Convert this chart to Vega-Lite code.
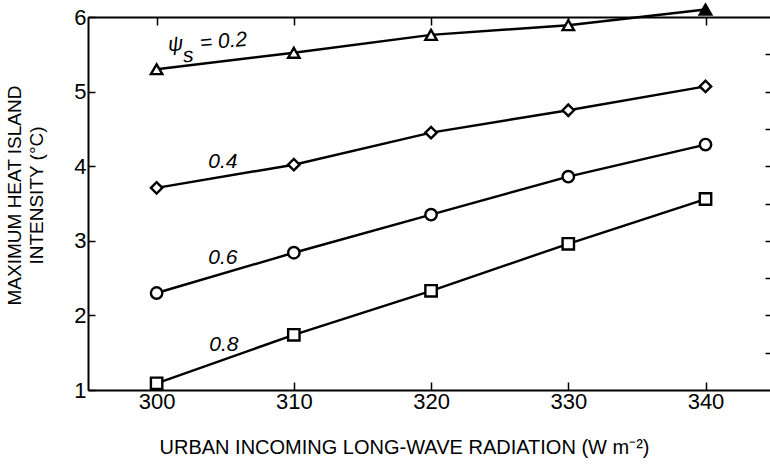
{
  "$schema": "https://vega.github.io/schema/vega-lite/v6.json",
  "width": 682,
  "height": 373,
  "autosize": {"type": "none"},
  "padding": {"left": 88, "top": 17, "right": 0, "bottom": 85},
  "background": "white",
  "config": {
    "view": {"stroke": null},
    "font": "Liberation Sans",
    "axis": {"grid": false, "domainColor": "black", "domainWidth": 2, "tickColor": "black", "tickWidth": 1.5, "labelColor": "black", "titleColor": "black", "labelFont": "Liberation Sans", "titleFont": "Liberation Sans", "titleFontWeight": "normal"}
  },
  "datasets": {
    "series": [
      {"R": 300, "T": 5.30, "psi": "0.2"},
      {"R": 310, "T": 5.52, "psi": "0.2"},
      {"R": 320, "T": 5.76, "psi": "0.2"},
      {"R": 330, "T": 5.89, "psi": "0.2"},
      {"R": 340, "T": 6.10, "psi": "0.2"},
      {"R": 300, "T": 3.71, "psi": "0.4"},
      {"R": 310, "T": 4.02, "psi": "0.4"},
      {"R": 320, "T": 4.45, "psi": "0.4"},
      {"R": 330, "T": 4.75, "psi": "0.4"},
      {"R": 340, "T": 5.07, "psi": "0.4"},
      {"R": 300, "T": 2.30, "psi": "0.6"},
      {"R": 310, "T": 2.84, "psi": "0.6"},
      {"R": 320, "T": 3.35, "psi": "0.6"},
      {"R": 330, "T": 3.86, "psi": "0.6"},
      {"R": 340, "T": 4.29, "psi": "0.6"},
      {"R": 300, "T": 1.09, "psi": "0.8"},
      {"R": 310, "T": 1.74, "psi": "0.8"},
      {"R": 320, "T": 2.33, "psi": "0.8"},
      {"R": 330, "T": 2.96, "psi": "0.8"},
      {"R": 340, "T": 3.56, "psi": "0.8"}
    ],
    "labels": [
      {"R": 304.83, "T": 4.06, "text": "0.4"},
      {"R": 304.83, "T": 2.77, "text": "0.6"},
      {"R": 304.9, "T": 1.60, "text": "0.8"}
    ],
    "psilabel": [
      {"R": 300.83, "T": 5.62, "text": "ψ"},
      {"R": 301.92, "T": 5.47, "text": "s"},
      {"R": 303.16, "T": 5.64, "text": "= 0.2"}
    ]
  },
  "resolve": {"axis": {"x": "independent", "y": "independent"}},
  "layer": [
    {
      "data": {"name": "series"},
      "mark": {"type": "line", "color": "black", "strokeWidth": 2.4},
      "encoding": {
        "x": {"field": "R", "type": "quantitative", "scale": {"domain": [295, 344.7], "nice": false, "zero": false},
          "axis": {"orient": "bottom", "values": [300, 310, 320, 330, 340], "format": "d", "tickSize": -8, "labelPadding": 9, "labelFontSize": 22,
            "title": "URBAN INCOMING LONG-WAVE RADIATION (W m⁻²)", "titleFontSize": 20, "titleX": 316, "titleY": 57, "titleAnchor": null, "titleAlign": "center", "titleBaseline": "middle"}},
        "y": {"field": "T", "type": "quantitative", "scale": {"domain": [1, 6], "nice": false, "zero": false},
          "axis": {"orient": "left", "values": [1, 1.5, 2, 2.5, 3, 3.5, 4, 4.5, 5, 5.5, 6], "format": "d", "labelExpr": "datum.value % 1 == 0 ? datum.label : ''", "tickSize": -7, "labelPadding": 9, "labelFontSize": 22,
            "title": ["MAXIMUM HEAT ISLAND", "INTENSITY (°C)"], "titleFontSize": 19, "titleLineHeight": 22, "titleAngle": -90, "titleX": -74, "titleY": 178, "titleAlign": "center", "titleBaseline": "middle"}},
        "detail": {"field": "psi"}
      }
    },
    {
      "data": {"name": "series"},
      "mark": {"type": "point", "filled": false, "stroke": "black", "strokeWidth": 2.4, "size": 130, "opacity": 1},
      "encoding": {
        "x": {"field": "R", "type": "quantitative", "axis": {"orient": "top", "values": [300, 310, 320, 330, 340], "tickSize": -8, "labels": false, "title": null}},
        "y": {"field": "T", "type": "quantitative", "axis": {"orient": "right", "values": [1.5, 2, 2.5, 3, 3.5, 4, 4.5, 5, 5.5], "tickSize": -5, "labels": false, "domain": false, "title": null}},
        "shape": {"field": "psi", "type": "nominal", "scale": {"domain": ["0.2", "0.4", "0.6", "0.8"], "range": ["triangle-up", "diamond", "circle", "square"]}, "legend": null},
        "fill": {"condition": {"test": "datum.R == 340 && datum.psi == '0.2'", "value": "black"}, "value": "white"}
      }
    },
    {
      "data": {"name": "labels"},
      "mark": {"type": "text", "fontSize": 21, "fontStyle": "italic", "color": "black"},
      "encoding": {
        "x": {"field": "R", "type": "quantitative", "axis": null},
        "y": {"field": "T", "type": "quantitative", "axis": null},
        "text": {"field": "text"}
      }
    },
    {
      "data": {"name": "psilabel"},
      "mark": {"type": "text", "fontSize": 21, "fontStyle": "italic", "color": "black", "angle": -5, "align": "left"},
      "encoding": {
        "x": {"field": "R", "type": "quantitative", "axis": null},
        "y": {"field": "T", "type": "quantitative", "axis": null},
        "text": {"field": "text"}
      }
    }
  ]
}
